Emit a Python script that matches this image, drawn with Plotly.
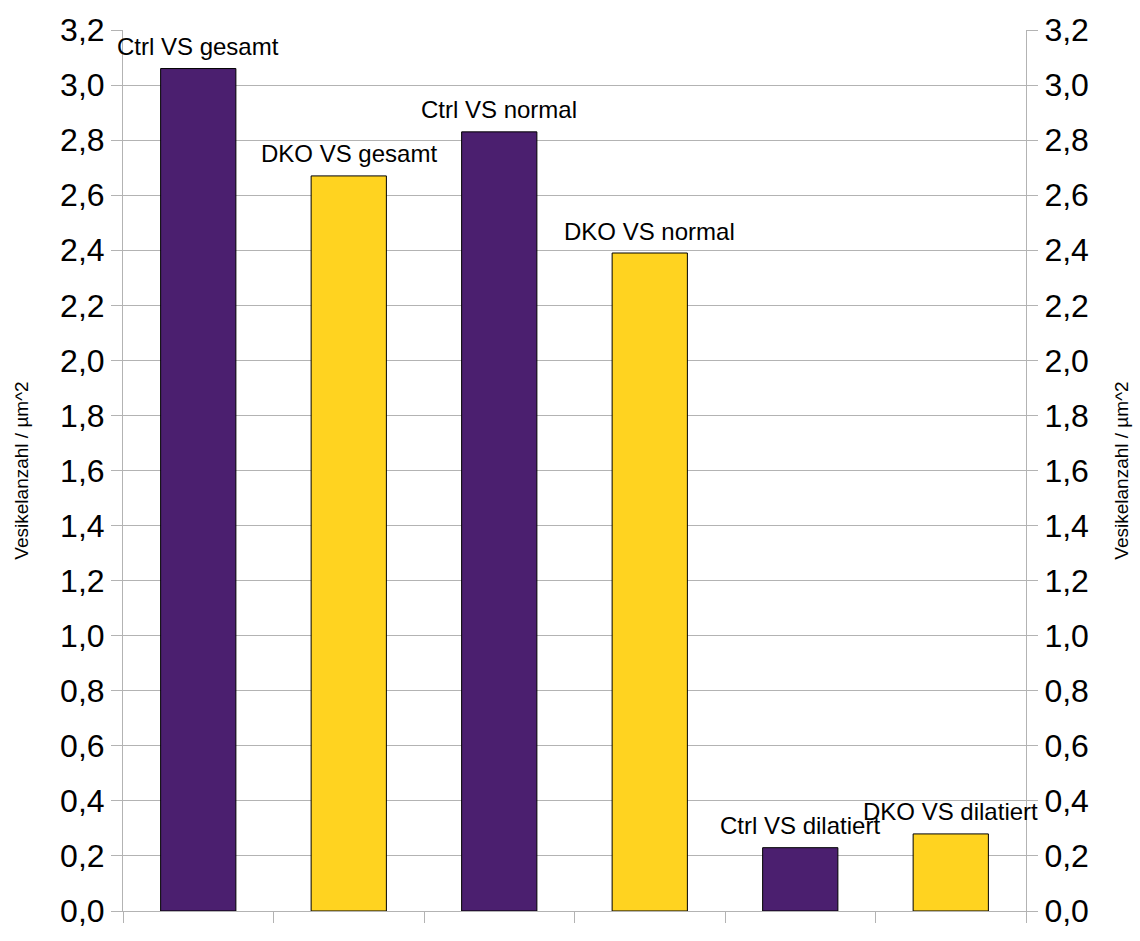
import plotly.graph_objects as go

# Vesicle density per group
categories = ["Ctrl VS gesamt", "DKO VS gesamt", "Ctrl VS normal",
              "DKO VS normal", "Ctrl VS dilatiert", "DKO VS dilatiert"]
values = [3.06, 2.67, 2.83, 2.39, 0.23, 0.28]
groups = ["Ctrl", "DKO", "Ctrl", "DKO", "Ctrl", "DKO"]

y_ticks = [round(0.2 * i, 1) for i in range(17)]
y_title = "Vesikelanzahl / µm^2"

group_colors = {"Ctrl": "#4B1F6F", "DKO": "#FFD320"}
grid_color = "#b3b3b3"
font_family = "Liberation Sans, Arial, sans-serif"

positions = list(range(len(categories)))

fig = go.Figure()
fig.add_trace(go.Bar(
    x=positions,
    y=values,
    width=0.5,
    marker=dict(color=[group_colors[g] for g in groups],
                line=dict(color="#000000", width=1)),
    hoverinfo="skip",
    showlegend=False,
))
# invisible companion trace so the right-hand axis is drawn
fig.add_trace(go.Scatter(
    x=positions, y=values, yaxis="y2", mode="markers",
    marker=dict(opacity=0), hoverinfo="skip", showlegend=False,
))

for xi, (name, v) in enumerate(zip(categories, values)):
    fig.add_annotation(
        x=xi, y=v, text=name, showarrow=False,
        xanchor="center", yanchor="middle", yshift=22,
        font=dict(family=font_family, size=24, color="#000000"),
    )

boundaries = [i - 0.5 for i in range(len(categories) + 1)]

axis_common = dict(
    range=[0, 3.2],
    tickmode="array", tickvals=y_ticks, tickformat=".1f",
    ticks="outside", ticklen=11, tickcolor=grid_color, tickwidth=1,
    tickfont=dict(size=32, family=font_family),
    zeroline=False, showline=True, linecolor=grid_color, linewidth=1,
    title=dict(text=y_title, font=dict(size=19, family=font_family),
               standoff=26),
)

fig.update_layout(
    width=1140, height=941,
    margin=dict(l=123, r=113, t=26, b=17),
    paper_bgcolor="white", plot_bgcolor="white",
    separators=",.",
    font=dict(family=font_family, color="#000000"),
    xaxis=dict(
        range=[-0.5, len(categories) - 0.5],
        tickmode="array", tickvals=boundaries, ticktext=[""] * len(boundaries),
        ticks="outside", ticklen=11, tickcolor=grid_color, tickwidth=1,
        showgrid=False, zeroline=False,
        showline=True, linecolor=grid_color, linewidth=1,
    ),
    yaxis=dict(showgrid=True, gridcolor=grid_color, gridwidth=1, **axis_common),
    yaxis2=dict(overlaying="y", side="right", showgrid=False, **axis_common),
)

fig.write_html("out.html")
